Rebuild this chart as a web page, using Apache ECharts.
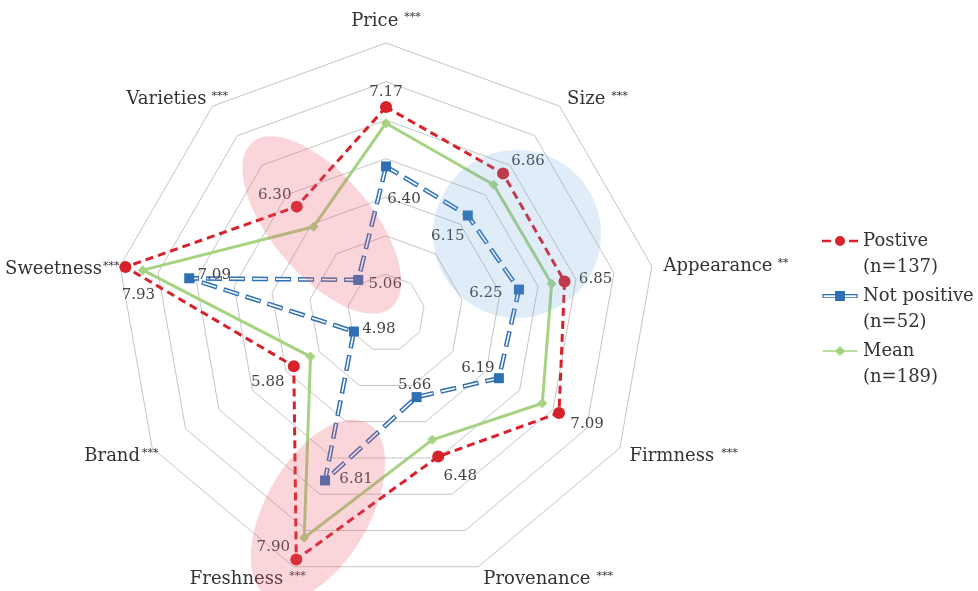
<!DOCTYPE html>
<html>
<head>
<meta charset="utf-8">
<script src="https://cdn.jsdelivr.net/npm/echarts@6/dist/echarts.min.js"></script>
<style>
  html, body { margin: 0; padding: 0; background: #fff; }
  #chart { width: 978px; height: 591px; }
</style>
</head>
<body>
<div id="chart"></div>
<script>
// Attribute ratings, indicators listed counter-clockwise starting at the top
const attributes   = ['Price', 'Varieties', 'Sweetness', 'Brand', 'Freshness', 'Provenance', 'Firmness', 'Appearance', 'Size'];
const significance = ['***', '***', '***', '***', '***', '***', '***', '**', '***'];
const positive     = [7.17, 6.30, 7.93, 5.88, 7.90, 6.48, 7.09, 6.85, 6.86];
const notPositive  = [6.40, 5.06, 7.09, 4.98, 6.81, 5.66, 6.19, 6.25, 6.15];
const mean         = [6.96, 5.96, 7.70, 5.63, 7.60, 6.25, 6.84, 6.68, 6.67];
const groupNames   = ['Postive', 'Not positive', 'Mean'];
const groupSizes   = ['(n=137)', '(n=52)', '(n=189)'];
const scaleMin = 4.5, scaleMax = 8, scaleSteps = 7;

// Layout: where each value label sits relative to its marker [dx, dy]
const positiveLabelShift    = [[0, -15], [-22, -12], [13, 28], [-26, 16], [-23, -12], [22, 20], [28, 11], [31, -2], [25, -12]];
const notPositiveLabelShift = [[18, 33], [27, 4], [25, -3], [25, -2], [31, -1], [-2, -12], [-21, -10], [-33, 4], [-20, 21]];
// Layout: extra room around each axis name [top, right, bottom, left] and gap before the stars
const nameBox = [[0, 0, 48, 0], [0, 7, 67, 0], [0, 35, 5, 0], [52, 24, 0, 0], [91, 0, 0, 0],
                 [91, 0, 0, 17], [52, 0, 0, 40], [0, 0, 11, 46], [0, 0, 67, 30]];
const sigGap = [6, 5, 1, 2, 6, 6, 7, 5, 6];

const FONT  = '"DejaVu Serif", "Liberation Serif", serif';
const RED   = '#d7212b';
const BLUE  = '#2f6fb3';
const GREEN = '#a6d382';

// Rich styles that shift each vertex label by padding on one side
function shiftedRich(shifts) {
  const rich = {};
  shifts.forEach(([dx, dy], i) => {
    rich['p' + i] = {
      fontFamily: FONT, fontSize: 15, color: '#444',
      padding: [Math.max(0, 2 * dy), Math.max(0, -2 * dx), Math.max(0, -2 * dy), Math.max(0, 2 * dx)]
    };
  });
  return rich;
}
function vertexLabel(shifts) {
  return {
    show: true,
    position: 'inside',
    formatter: p => {
      const i = p.data.value.indexOf(p.value);
      return '{p' + i + '|' + p.value.toFixed(2) + '}';
    },
    rich: shiftedRich(shifts)
  };
}

// Axis name = name token + superscript significance token
const nameRich = {};
attributes.forEach((n, i) => {
  const [t, r, b, l] = nameBox[i];
  nameRich['n' + i] = { fontFamily: FONT, fontSize: 18, color: '#333', padding: [t, 0, b, l] };
  nameRich['s' + i] = { fontFamily: FONT, fontSize: 11, color: '#333', verticalAlign: 'top', padding: [t, r, b, sigGap[i]] };
});

const chart = echarts.init(document.getElementById('chart'), null, { renderer: 'canvas' });

chart.setOption({
  animation: false,
  backgroundColor: '#fff',
  radar: {
    center: [386, 313],
    radius: 270,
    startAngle: 90,
    splitNumber: scaleSteps,
    shape: 'polygon',
    nameGap: -35,
    indicator: attributes.map(n => ({ name: n, min: scaleMin, max: scaleMax })),
    axisName: {
      color: '#333',
      formatter: name => {
        const i = attributes.indexOf(name);
        return '{n' + i + '|' + name + '}{s' + i + '|' + significance[i] + '}';
      },
      rich: nameRich
    },
    axisLine: { show: false },
    axisTick: { show: false },
    axisLabel: { show: false },
    splitArea: { show: false },
    splitLine: { lineStyle: { color: '#c6c6c6', width: 1 } }
  },
  legend: {
    orient: 'vertical',
    left: 822,
    top: 202,
    padding: 0,
    itemGap: -23,
    itemWidth: 36,
    itemHeight: 10,
    itemStyle: { borderWidth: 0 },
    data: [
      { name: groupNames[0], icon: 'path://M0,4h9v2.4h-9z M27,4h9v2.4h-9z M13,5.2a5,5 0 1,0 10,0a5,5 0 1,0 -10,0z' },
      { name: groupNames[1], icon: 'path://M0,3h36v4.2h-36z M1.2,4.3v2h33.6v-2z M13,0h10v10.2h-10z' },
      { name: groupNames[2], icon: 'path://M0,4.4h36v1.6h-36z M18,0L23.5,5.2L18,10.4L12.5,5.2z' }
    ],
    // blank first line keeps the name level with its icon
    formatter: name => '\n' + name + '\n' + groupSizes[groupNames.indexOf(name)],
    textStyle: { fontFamily: FONT, fontSize: 18, color: '#333', lineHeight: 26 }
  },
  series: [
    // Not positive: blue outline of a hollow dashed line
    {
      type: 'radar', z: 2,
      data: [{ name: groupNames[1], value: notPositive }],
      symbol: 'none',
      lineStyle: { color: BLUE, width: 4.6, type: [16, 7] },
      itemStyle: { color: BLUE }
    },
    {
      type: 'radar', z: 2,
      data: [{ name: groupNames[1], value: notPositive }],
      symbol: 'none',
      lineStyle: { color: '#fff', width: 1.6, type: [14, 9], dashOffset: -1 },
      itemStyle: { color: '#fff' }
    },
    {
      type: 'radar', z: 2,
      data: [{ name: groupNames[1], value: notPositive }],
      symbol: 'rect', symbolSize: 10,
      lineStyle: { width: 0, opacity: 0 },
      itemStyle: { color: BLUE },
      label: vertexLabel(notPositiveLabelShift)
    },
    // Mean
    {
      type: 'radar', z: 2,
      data: [{ name: groupNames[2], value: mean }],
      symbol: 'diamond', symbolSize: 10,
      lineStyle: { color: GREEN, width: 3 },
      itemStyle: { color: GREEN }
    },
    // Positive
    {
      type: 'radar', z: 2,
      data: [{ name: groupNames[0], value: positive }],
      symbol: 'circle', symbolSize: 12,
      lineStyle: { color: RED, width: 3, type: [8, 5] },
      itemStyle: { color: RED },
      label: vertexLabel(positiveLabelShift)
    }
  ],
  // Translucent highlight zones over the plot
  graphic: [
    { type: 'ellipse', silent: true, z: 100, x: 322, y: 225, rotation: -0.87,
      shape: { cx: 0, cy: 0, rx: 108, ry: 50 }, style: { fill: 'rgba(235,90,110,0.25)' } },
    { type: 'circle', silent: true, z: 100,
      shape: { cx: 517, cy: 234, r: 84 }, style: { fill: 'rgba(100,160,220,0.2)' } },
    { type: 'ellipse', silent: true, z: 100, x: 318, y: 510, rotation: 1.05,
      shape: { cx: 0, cy: 0, rx: 100, ry: 52 }, style: { fill: 'rgba(235,90,110,0.25)' } }
  ]
});
</script>
</body>
</html>
